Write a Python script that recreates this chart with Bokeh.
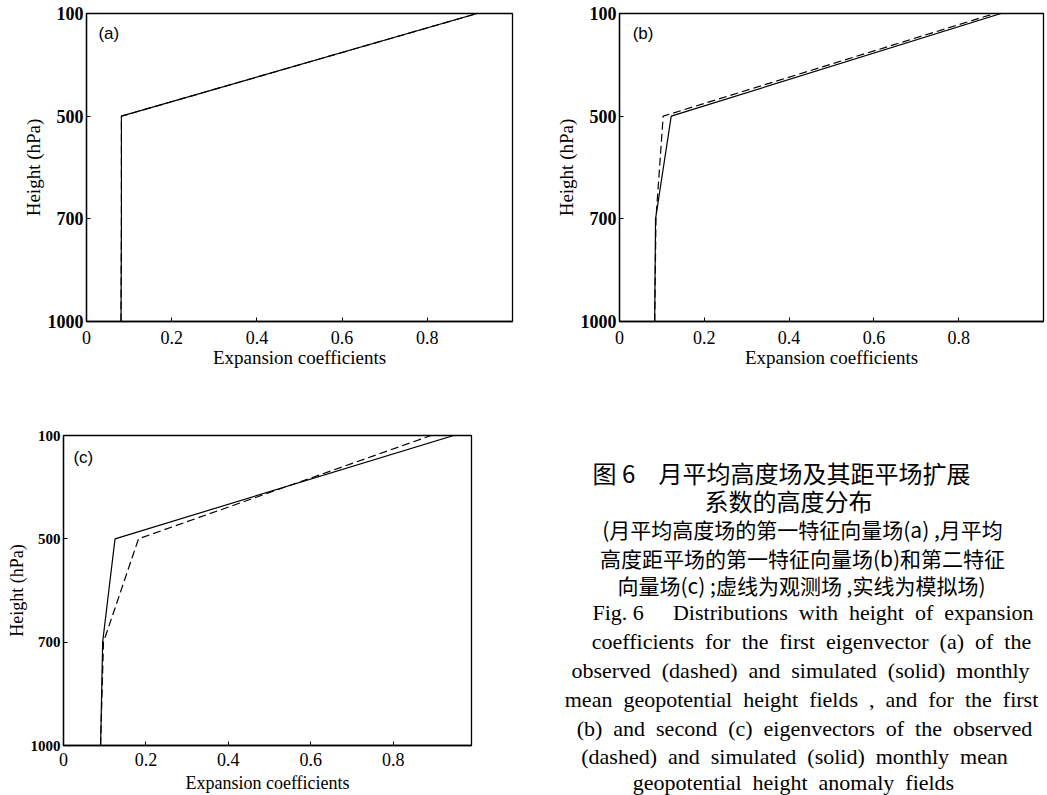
from bokeh.plotting import figure
from bokeh.layouts import column, row
from bokeh.models import Range1d, FixedTicker, Label
from bokeh.embed import file_html
from bokeh.resources import INLINE

# ---------------- data ----------------
levels = [1000, 700, 500, 100]
level_labels = ["1000", "700", "500", "100"]
x_ticks = [0, 0.2, 0.4, 0.6, 0.8]
x_tick_labels = ["0", "0.2", "0.4", "0.6", "0.8"]

# expansion coefficients at each level (observed = dashed, simulated = solid)
a_obs = [0.081, 0.082, 0.082, 0.917]
a_sim = [0.081, 0.082, 0.082, 0.917]
b_obs = [0.083, 0.086, 0.103, 0.885]
b_sim = [0.083, 0.085, 0.122, 0.900]
c_obs = [0.090, 0.097, 0.182, 0.892]
c_sim = [0.090, 0.095, 0.125, 0.947]

level_pos = list(range(len(levels)))

SERIF = "Liberation Serif"
SANS = "Liberation Sans"
CJK = "Noto Sans CJK SC"


def make_panel(width, height, bl, br, bt, bb, xmax, obs, sim, tag, tag_x, tag_y,
               yfs, xfs, lfs, ylab_standoff, xstand, xlab_standoff):
    p = figure(width=width, height=height, output_backend="svg", toolbar_location=None,
               x_range=Range1d(0, xmax), y_range=Range1d(0, len(levels) - 1),
               min_border_left=bl, min_border_right=br, min_border_top=bt,
               min_border_bottom=bb, background_fill_color="white",
               border_fill_color="white")
    p.grid.visible = False
    p.outline_line_color = "black"
    p.outline_line_width = 1.3
    p.outline_line_alpha = 1.0

    p.xaxis.ticker = FixedTicker(ticks=x_ticks)
    p.xaxis.major_label_overrides = {t: l for t, l in zip(x_ticks, x_tick_labels)}
    p.yaxis.ticker = FixedTicker(ticks=level_pos)
    p.yaxis.major_label_overrides = {t: l for t, l in zip(level_pos, level_labels)}

    for ax in (p.xaxis[0], p.yaxis[0]):
        ax.axis_line_color = "black"
        ax.axis_line_width = 1.3
        ax.major_tick_in = 4
        ax.major_tick_out = 0
        ax.major_tick_line_color = "black"
        ax.minor_tick_line_color = None
        ax.axis_label_text_font = SERIF
        ax.axis_label_text_font_style = "normal"
        ax.axis_label_text_font_size = lfs
        ax.axis_label_text_color = "black"
        ax.major_label_text_font = SERIF
        ax.major_label_text_color = "black"

    p.yaxis.major_label_text_font_style = "bold"
    p.yaxis.major_label_text_font_size = yfs
    p.yaxis.major_label_standoff = 3
    p.yaxis.axis_label = "Height (hPa)"
    p.yaxis.axis_label_standoff = ylab_standoff

    p.xaxis.major_label_text_font_size = xfs
    p.xaxis.major_label_standoff = xstand
    p.xaxis.axis_label = "Expansion coefficients"
    p.xaxis.axis_label_standoff = xlab_standoff

    p.line(x=sim, y=level_pos, line_color="black", line_width=1.2)
    p.line(x=obs, y=level_pos, line_color="black", line_width=1.2, line_dash="8 4")

    p.add_layout(Label(x=tag_x, y=tag_y, text=tag, text_font=SANS, text_font_size="17px",
                       text_color="black", text_baseline="middle", text_align="left"))
    return p


pa = make_panel(520, 400, 86, 8, 13, 77, 1.0, a_obs, a_sim, "(a)", 0.028, 2.81,
                "18px", "18px", "19px", 1, 9, 0)
pb = make_panel(527, 400, 99, 4, 13, 79, 1.0, b_obs, b_sim, "(b)", 0.031, 2.81,
                "18px", "18px", "19px", 1, 9, 0)
pc = make_panel(520, 395, 63, 49, 35, 46, 0.99, c_obs, c_sim, "(c)", 0.024, 2.79,
                "15px", "18px", "18px", 1, 7, 4)

# ---------------- caption ----------------
cap = figure(width=527, height=395, output_backend="svg", toolbar_location=None,
             x_range=Range1d(520, 1047), y_range=Range1d(795, 400),
             min_border=0, x_axis_location=None, y_axis_location=None)
cap.grid.visible = False
cap.outline_line_color = None

ES = "\u2002"  # wider word spacing as in the printed caption


def sp(s):
    return s.replace(" ", ES)


cap_lines = [
    ("图 6", 592, 472, CJK, "24px", "left"),
    ("月平均高度场及其距平场扩展", 658, 472, CJK, "24px", "left"),
    ("系数的高度分布", 788, 500, CJK, "24px", "center"),
    ("(月平均高度场的第一特征向量场(a) ,月平均", 802, 528, CJK, "21px", "center"),
    ("高度距平场的第一特征向量场(b)和第二特征", 802, 557, CJK, "21px", "center"),
    ("向量场(c) ;虚线为观测场 ,实线为模拟场)", 801, 584, CJK, "21px", "center"),
    ("Fig. 6", 592, 612, SERIF, "22px", "left"),
    (sp("Distributions with height of expansion"), 1033, 612, SERIF, "22px", "right"),
    (sp("coefficients for the first eigenvector (a) of the"), 811, 641, SERIF, "22px", "center"),
    (sp("observed (dashed) and simulated (solid) monthly"), 800, 670, SERIF, "22px", "center"),
    (sp("mean geopotential height fields , and for the first"), 801, 699, SERIF, "22px", "center"),
    (sp("(b) and second (c) eigenvectors of the observed"), 804, 728, SERIF, "22px", "center"),
    (sp("(dashed) and simulated (solid) monthly mean"), 794, 756, SERIF, "22px", "center"),
    (sp("geopotential height anomaly fields"), 793, 782, SERIF, "22px", "center"),
]
for txt, x, y, font, fs, align in cap_lines:
    cap.add_layout(Label(x=x, y=y, text=txt, text_font=font, text_font_size=fs,
                         text_color="black", text_align=align, text_baseline="middle"))

layout = column(row(pa, pb), row(pc, column(cap)))

open("out.html", "w").write(file_html(layout, INLINE))
